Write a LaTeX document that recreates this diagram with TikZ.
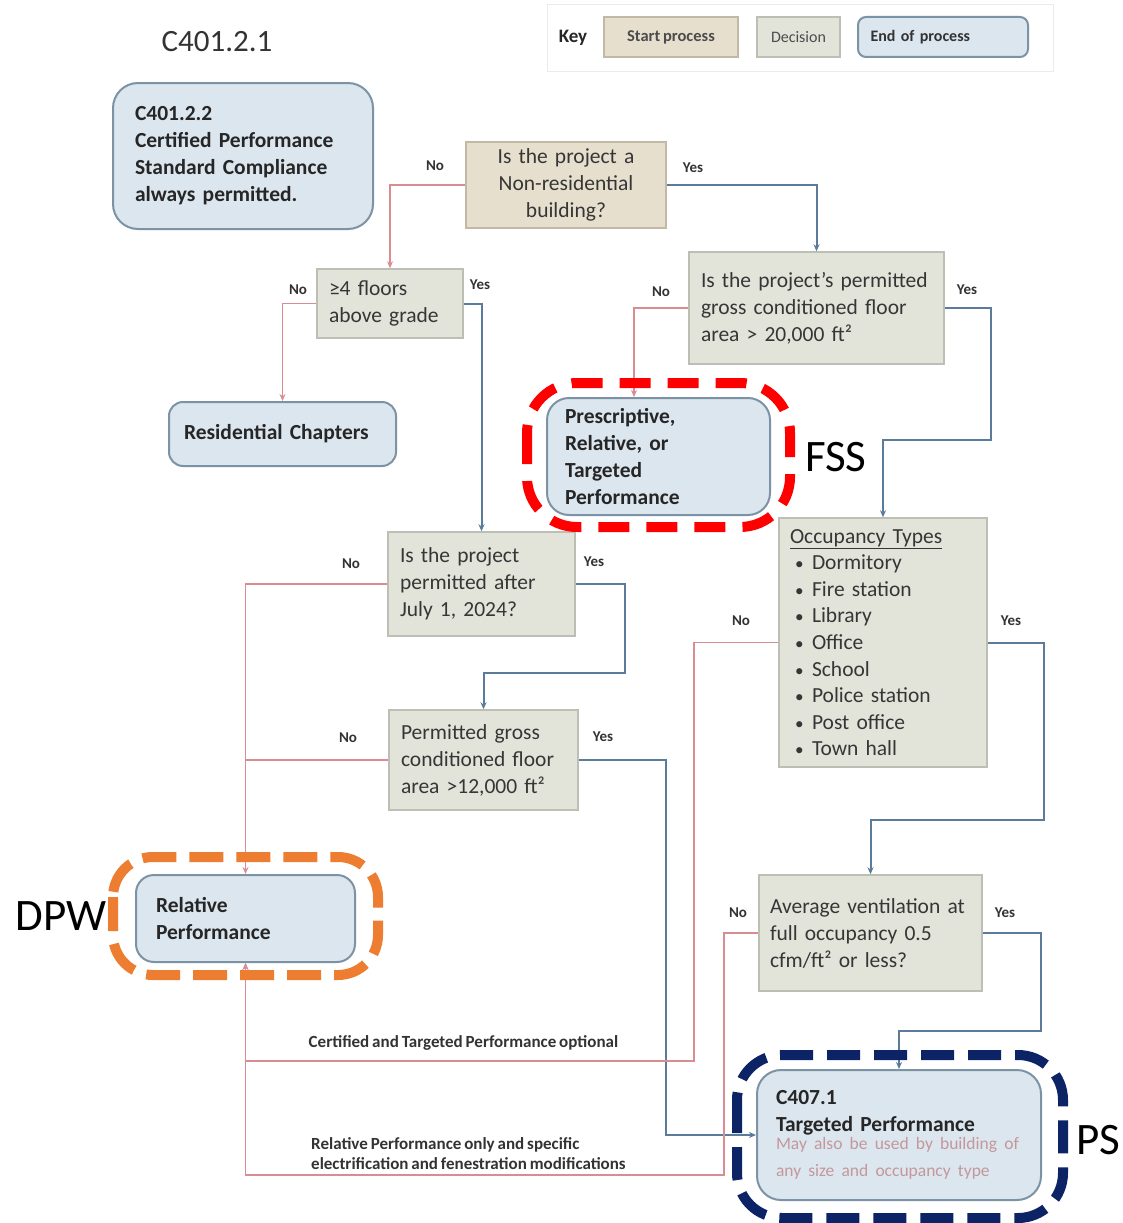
\documentclass[tikz,border=0pt]{standalone}
\usepackage{fontspec}
\setmainfont{Carlito}[WordSpace={0.75}]
\usetikzlibrary{arrows.meta,calc}
\definecolor{tanfill}{HTML}{E7DFCE}
\definecolor{tanline}{HTML}{C2B8A6}
\definecolor{decfill}{HTML}{E2E4DA}
\definecolor{decline}{HTML}{BDBFB4}
\definecolor{endfill}{HTML}{DCE6EF}
\definecolor{endline}{HTML}{7C93A6}
\definecolor{noclr}{HTML}{D98D92}
\definecolor{yesclr}{HTML}{5B7B9B}
\definecolor{txt}{HTML}{363636}
\definecolor{pinktxt}{HTML}{C4979A}
\definecolor{fssred}{HTML}{FF0000}
\definecolor{dpworange}{HTML}{ED7D31}
\definecolor{psnavy}{HTML}{0C2466}
\begin{document}
\begin{tikzpicture}[x=1pt,y=-1pt,
  >={Stealth[length=7pt,width=6pt]},
  bodyfont/.style={font=\fontsize{21.5}{27}\selectfont},
  startbox/.style={rectangle,fill=tanfill,draw=tanline,line width=1.5pt,inner xsep=12pt,inner ysep=0pt,text=txt,bodyfont},
  decbox/.style={rectangle,fill=decfill,draw=decline,line width=1.5pt,inner xsep=12pt,inner ysep=0pt,text=txt,bodyfont,align=left},
  endbox/.style={rectangle,fill=endfill,draw=endline,line width=2pt,inner xsep=22pt,inner ysep=0pt,text=black!85,align=left,font=\fontsize{21.5}{27}\selectfont\bfseries},
  noline/.style={draw=noclr,line width=1.8pt},
  yesline/.style={draw=yesclr,line width=2pt},
  lbl/.style={font=\fontsize{15}{17}\selectfont\bfseries,text=black!80,inner sep=0pt},
  pathlbl/.style={font=\fontsize{17}{20}\selectfont\bfseries,text=black!80,inner sep=0pt},
  hilite/.style={line width=10pt},
  big/.style={font=\fontsize{45}{50}\selectfont,text=black,inner sep=0pt}
]
\useasboundingbox[fill=white] (0,0) rectangle (1122,1223);

% title
\node[font=\fontsize{31}{34}\selectfont,text=black!80,inner sep=0pt] (title) at (217,42) {C401.2.1};

% key
\node[draw=black!8,line width=1pt,fill=white,minimum width=506pt,minimum height=67pt,inner sep=0pt] (keypanel) at (800,38.5) {};
\node[font=\fontsize{19}{22}\selectfont\bfseries,text=black!85,inner sep=0pt] (keylbl) at (573,38) {Key};
\node[startbox,minimum width=134pt,minimum height=40pt,inner xsep=0pt,font=\fontsize{16.5}{18}\selectfont\bfseries,text=black!70] (keystart) at (671,37) {Start process};
\node[decbox,minimum width=83pt,minimum height=40pt,inner xsep=0pt,align=center,font=\fontsize{16}{18}\selectfont,text=black!70] (keydec) at (798.5,37) {Decision};
\node[endbox,rounded corners=8pt,text width=145pt,minimum height=40pt,inner xsep=12.5pt,font=\fontsize{16}{18}\selectfont\bfseries,text=black!80] (keyend) at (943,37) {End of process};

% process boxes
\node[endbox,rounded corners=25pt,text width=216pt,minimum height=146pt] (certperf) at (243,156)
  {C401.2.2\\Certified Performance\\Standard Compliance\\always permitted.};
\node[startbox,text width=176pt,minimum height=86pt,align=center] (nonres) at (566,185)
  {Is the project a\\Non-residential\\building?};
\node[decbox,text width=122pt,minimum height=69pt] (floors) at (390,303.5)
  {≥4 floors\\above grade};
\node[endbox,rounded corners=14pt,inner xsep=15pt,text width=197pt,minimum height=64pt] (resch) at (282.5,434)
  {Residential Chapters};
\node[decbox,inner xsep=12pt,text width=231pt,minimum height=112pt] (area20) at (816.5,308)
  {Is the project’s permitted\\gross conditioned floor\\area > 20,000 ft²};
\node[endbox,rounded corners=22pt,inner xsep=18pt,text width=187pt,minimum height=117pt] (prescr) at (658.5,456.5)
  {Prescriptive,\\Relative, or\\Targeted\\Performance};
\node[decbox,text width=163pt,minimum height=104pt] (july) at (481.5,584)
  {Is the project\\permitted after\\July 1, 2024?};
\node[decbox,text width=165pt,minimum height=100pt] (area12) at (483.5,760)
  {Permitted gross\\conditioned floor\\area >12,000 ft²};
\node[decbox,inner xsep=11pt,text width=186pt,minimum height=249pt,font=\fontsize{21.5}{26.6}\selectfont] (occ) at (883,642.5)
  {\underline{Occupancy Types}\\
   \makebox[22pt][l]{\hspace{5pt}\scalebox{0.8}{•}}Dormitory\\
   \makebox[22pt][l]{\hspace{5pt}\scalebox{0.8}{•}}Fire station\\
   \makebox[22pt][l]{\hspace{5pt}\scalebox{0.8}{•}}Library\\
   \makebox[22pt][l]{\hspace{5pt}\scalebox{0.8}{•}}Office\\
   \makebox[22pt][l]{\hspace{5pt}\scalebox{0.8}{•}}School\\
   \makebox[22pt][l]{\hspace{5pt}\scalebox{0.8}{•}}Police station\\
   \makebox[22pt][l]{\hspace{5pt}\scalebox{0.8}{•}}Post office\\
   \makebox[22pt][l]{\hspace{5pt}\scalebox{0.8}{•}}Town hall};
\node[decbox,inner xsep=11pt,text width=201pt,minimum height=116pt] (vent) at (870.5,933)
  {Average ventilation at\\full occupancy 0.5\\cfm/ft² or less?};
\node[endbox,rounded corners=18pt,inner xsep=20pt,text width=179pt,minimum height=87pt] (relperf) at (245.5,918.5)
  {Relative\\Performance};
\node[endbox,rounded corners=24pt,inner xsep=19pt,text width=246pt,minimum height=130pt] (targ) at (899,1135)
  {C407.1\\Targeted Performance\\[-4pt]
   {\mdseries\color{pinktxt}\fontsize{17.5}{22}\selectfont May also be used by building of\\any size and occupancy type}};

% bend points
\coordinate (b1) at (991,440);
\coordinate (b2) at (625,673);
\coordinate (b3) at (666,1135);
\coordinate (b4) at (694,1061);
\coordinate (b5) at (724,1175);
\coordinate (b6) at (1044,820);
\coordinate (b7) at (1041,1031);

% connectors
\draw[noline,->] (nonres.west) -| (floors.north);
\draw[yesline,->] (nonres.east) -| (area20.north);
\draw[noline,->] (floors.west) -| (resch.north);
\draw[yesline,->] (floors.east) -| (july.north);
\draw[noline,->] (area20.west) -| ([xshift=-24.5pt]prescr.north);
\draw[yesline,->] (area20.east) -| (b1) -| (occ.north);
\draw[noline,->] (july.west) -| (relperf.north);
\draw[yesline,->] (july.east) -| (b2) -| (area12.north);
\draw[noline] (area12.west) -- (area12.west -| relperf.north);
\draw[yesline,->] (area12.east) -| (b3) -- (targ.west);
\draw[noline,->] (occ.west) -| (b4) -| (relperf.south);
\draw[noline,->] (vent.west) -| (b5) -| (relperf.south);
\draw[yesline,->] (occ.east) -| (b6) -| (vent.north);
\draw[yesline,->] (vent.east) -| (b7) -| (targ.north);

% yes/no labels
\node[lbl] (n1) at (435,166) {No};
\node[lbl] (y1) at (693,168) {Yes};
\node[lbl] (n2) at (298,290) {No};
\node[lbl] (y2) at (480,285) {Yes};
\node[lbl] (n3) at (661,292) {No};
\node[lbl] (y3) at (967,290) {Yes};
\node[lbl] (n4) at (351,564) {No};
\node[lbl] (y4) at (594,562) {Yes};
\node[lbl] (n5) at (348,738) {No};
\node[lbl] (y5) at (603,737) {Yes};
\node[lbl] (n6) at (741,621) {No};
\node[lbl] (y6) at (1011,621) {Yes};
\node[lbl] (n7) at (738,913) {No};
\node[lbl] (y7) at (1005,913) {Yes};

% path labels
\node[pathlbl] (optlbl) at (463.5,1043)
  {Certified and Targeted Performance optional};
\node[pathlbl,align=left,anchor=west] (rellbl) at (311,1154)
  {Relative Performance only and specific\\electrification and fenestration modifications};

% highlight outlines
\draw[hilite,draw=fssred,dash pattern=on 31pt off 17pt,rounded corners=50pt] (527,383) rectangle (790,527);
\draw[hilite,draw=dpworange,dash pattern=on 34pt off 13pt,rounded corners=40pt] (113,857) rectangle (378,975);
\draw[hilite,draw=psnavy,dash pattern=on 33pt off 14pt,rounded corners=45pt] (737,1055) rectangle (1063,1218);

\node[big] (fss) at (836,457) {FSS};
\node[big] (dpw) at (61,916) {DPW};
\node[big] (ps) at (1098,1140) {PS};
\end{tikzpicture}
\end{document}
